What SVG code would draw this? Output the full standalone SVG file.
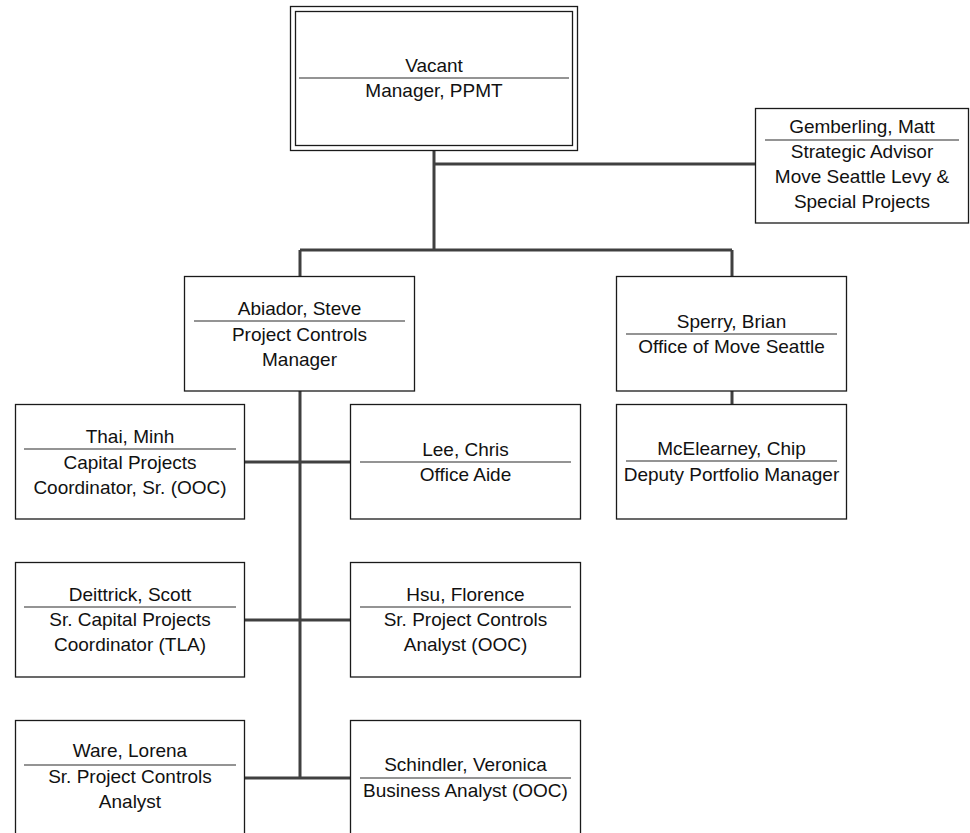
<svg xmlns="http://www.w3.org/2000/svg" width="970" height="833" viewBox="0 0 970 833">
<style>
.box{fill:#fff;stroke:#1a1a1a;stroke-width:1.3}
.div{stroke:#707070;stroke-width:1.5}
.con{fill:none;stroke:#404040;stroke-width:3}
text{font-family:"Liberation Sans",Arial,sans-serif;font-size:19px;fill:#111;text-anchor:middle}
</style>
<rect width="970" height="833" fill="#fff"/>
<g id="connectors">
<path class="con" d="M434,150V250M434,164H756M300,250H732M300,250V277M732,250V277M300,391V778M244,462H350M244,620H350M244,778H350M732,391V404"/>
</g>
<g id="vacant">
<rect class="box" x="290.5" y="6.5" width="287" height="144"/>
<rect class="box" x="295.5" y="11.5" width="277" height="134"/>
<text x="434" y="72">Vacant</text>
<line class="div" x1="299" y1="78" x2="569" y2="78"/>
<text x="434" y="97">Manager, PPMT</text>
</g>
<g id="gemberling">
<rect class="box" x="755.5" y="108.5" width="213" height="114.5"/>
<text x="862" y="133">Gemberling, Matt</text>
<line class="div" x1="765" y1="140" x2="959" y2="140"/>
<text x="862" y="158">Strategic Advisor</text>
<text x="862" y="183">Move Seattle Levy &amp;</text>
<text x="862" y="208">Special Projects</text>
</g>
<g id="abiador">
<rect class="box" x="184.5" y="276.5" width="230" height="114.5"/>
<text x="299.5" y="315">Abiador, Steve</text>
<line class="div" x1="194" y1="321" x2="405" y2="321"/>
<text x="299.5" y="341">Project Controls</text>
<text x="299.5" y="366">Manager</text>
</g>
<g id="sperry">
<rect class="box" x="616.5" y="276.5" width="230" height="114.5"/>
<text x="731.5" y="328">Sperry, Brian</text>
<line class="div" x1="626" y1="334" x2="837" y2="334"/>
<text x="731.5" y="353">Office of Move Seattle</text>
</g>
<g id="thai">
<rect class="box" x="15.5" y="404.5" width="229" height="114.5"/>
<text x="130" y="443">Thai, Minh</text>
<line class="div" x1="24" y1="449" x2="236" y2="449"/>
<text x="130" y="469">Capital Projects</text>
<text x="130" y="494">Coordinator, Sr. (OOC)</text>
</g>
<g id="lee">
<rect class="box" x="350.5" y="404.5" width="230" height="114.5"/>
<text x="465.5" y="456">Lee, Chris</text>
<line class="div" x1="360" y1="462" x2="571" y2="462"/>
<text x="465.5" y="481">Office Aide</text>
</g>
<g id="mcelearney">
<rect class="box" x="616.5" y="404.5" width="230" height="114.5"/>
<text x="731.5" y="455">McElearney, Chip</text>
<line class="div" x1="626" y1="461" x2="837" y2="461"/>
<text x="731.5" y="481">Deputy Portfolio Manager</text>
</g>
<g id="deittrick">
<rect class="box" x="15.5" y="562.5" width="229" height="114.5"/>
<text x="130" y="601">Deittrick, Scott</text>
<line class="div" x1="24" y1="607" x2="236" y2="607"/>
<text x="130" y="626">Sr. Capital Projects</text>
<text x="130" y="651">Coordinator (TLA)</text>
</g>
<g id="hsu">
<rect class="box" x="350.5" y="562.5" width="230" height="114.5"/>
<text x="465.5" y="601">Hsu, Florence</text>
<line class="div" x1="360" y1="607" x2="571" y2="607"/>
<text x="465.5" y="626">Sr. Project Controls</text>
<text x="465.5" y="651">Analyst (OOC)</text>
</g>
<g id="ware">
<rect class="box" x="15.5" y="720.5" width="229" height="125"/>
<text x="130" y="757">Ware, Lorena</text>
<line class="div" x1="24" y1="765" x2="236" y2="765"/>
<text x="130" y="783">Sr. Project Controls</text>
<text x="130" y="808">Analyst</text>
</g>
<g id="schindler">
<rect class="box" x="350.5" y="720.5" width="230" height="125"/>
<text x="465.5" y="771">Schindler, Veronica</text>
<line class="div" x1="360" y1="778" x2="571" y2="778"/>
<text x="465.5" y="797">Business Analyst (OOC)</text>
</g>
</svg>
